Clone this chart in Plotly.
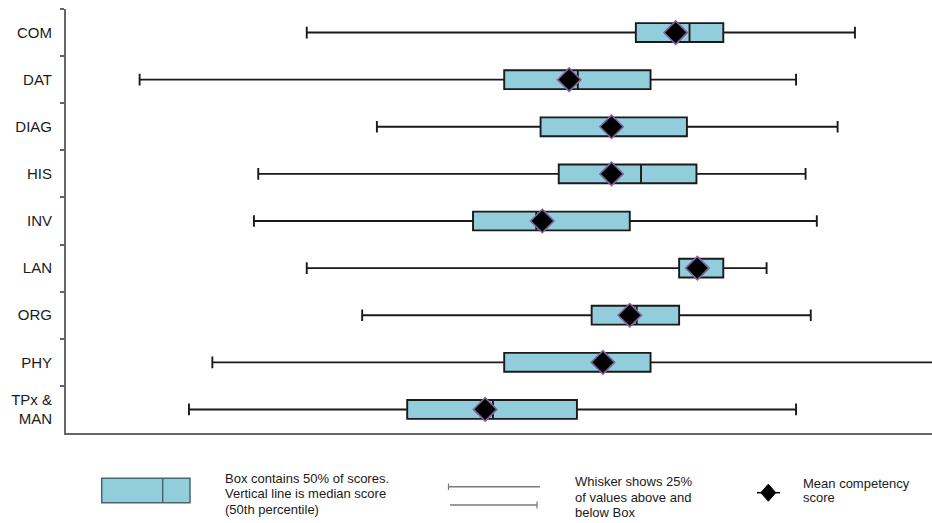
import plotly.graph_objects as go

# ---- data (score scale 0-100) ----
categories = ["COM", "DAT", "DIAG", "HIS", "INV", "LAN", "ORG", "PHY", "TPx &<br>MAN"]
lower_whisker = [27.8, 8.5, 35.9, 22.2, 21.7, 27.8, 34.2, 16.9, 14.2]
q1_values = [65.8, 50.6, 54.8, 56.9, 47.0, 70.8, 60.7, 50.6, 39.4]
median_values = [72.0, 59.1, 63.0, 66.4, 54.3, 73.0, 65.9, 62.0, 49.3]
q3_values = [75.9, 67.5, 71.7, 72.8, 65.1, 75.9, 70.8, 67.5, 59.0]
upper_whisker = [91.1, 84.3, 89.1, 85.4, 86.7, 80.9, 86.0, 102.0, 84.3]
mean_values = [70.4, 58.1, 63.0, 63.0, 55.0, 72.9, 65.1, 62.0, 48.4]

FONT = "Liberation Sans, Arial, sans-serif"
BOX_FILL = "#92CDDC"

fig = go.Figure()

fig.add_trace(go.Box(
    orientation="h",
    y=categories,
    q1=q1_values,
    median=median_values,
    q3=q3_values,
    lowerfence=lower_whisker,
    upperfence=upper_whisker,
    fillcolor=BOX_FILL,
    line=dict(color="#1a1a1a", width=1.9),
    width=0.4,
    whiskerwidth=0.62,
    boxpoints=False,
    showlegend=False,
    hoverinfo="skip",
))

fig.add_trace(go.Scatter(
    x=mean_values,
    y=categories,
    mode="markers",
    marker=dict(symbol="diamond", size=18, color="black",
                line=dict(color="#8064A2", width=1.6)),
    showlegend=False,
    cliponaxis=False,
    hoverinfo="skip",
))

# ---- layout geometry ----
W, H = 932, 523
L, R, T, B = 66, 0, 9, 90
PW, PH = W - L - R, H - T - B


def px_x(p):
    return (p - L) / PW


def px_y(p):
    return (H - B - p) / PH


shapes = []
annotations = []

# legend: box sample
shapes.append(dict(type="rect", xref="paper", yref="paper",
                   x0=px_x(101.7), x1=px_x(190), y0=px_y(502.7), y1=px_y(478.3),
                   fillcolor=BOX_FILL, line=dict(color="#4a6670", width=1.5)))
shapes.append(dict(type="line", xref="paper", yref="paper",
                   x0=px_x(162.7), x1=px_x(162.7), y0=px_y(502.7), y1=px_y(478.3),
                   line=dict(color="#4a6670", width=1.5)))

# legend: whisker samples
wcol = "#7a7a7a"
shapes.append(dict(type="line", xref="paper", yref="paper",
                   x0=px_x(448), x1=px_x(540), y0=px_y(486.7), y1=px_y(486.7),
                   line=dict(color=wcol, width=1.5)))
shapes.append(dict(type="line", xref="paper", yref="paper",
                   x0=px_x(448.5), x1=px_x(448.5), y0=px_y(483.5), y1=px_y(490),
                   line=dict(color=wcol, width=1.2)))
shapes.append(dict(type="line", xref="paper", yref="paper",
                   x0=px_x(450), x1=px_x(537), y0=px_y(505), y1=px_y(505),
                   line=dict(color=wcol, width=1.5)))
shapes.append(dict(type="line", xref="paper", yref="paper",
                   x0=px_x(537), x1=px_x(537), y0=px_y(501.5), y1=px_y(508.5),
                   line=dict(color=wcol, width=1.2)))

# legend: mean diamond sample
cx, cy = 768.3, 492.7
shapes.append(dict(type="line", xref="paper", yref="paper",
                   x0=px_x(757), x1=px_x(780), y0=px_y(cy), y1=px_y(cy),
                   line=dict(color="black", width=1.5)))
dpath = "M {} {} L {} {} L {} {} L {} {} Z".format(
    px_x(cx - 7.5), px_y(cy), px_x(cx), px_y(cy - 8.5),
    px_x(cx + 7.5), px_y(cy), px_x(cx), px_y(cy + 8.5))
shapes.append(dict(type="path", xref="paper", yref="paper", path=dpath,
                   fillcolor="black", line=dict(color="black", width=1)))


def add_lines(x, ys, lines):
    for yy, txt in zip(ys, lines):
        annotations.append(dict(xref="paper", yref="paper", x=px_x(x), y=px_y(yy),
                                xanchor="left", yanchor="middle", showarrow=False,
                                text=txt, font=dict(family=FONT, size=13, color="#1a1a1a"),
                                align="left"))


add_lines(223, [478, 493.5, 509],
          ["Box contains 50% of scores.", "Vertical line is median score", "(50th percentile)"])
add_lines(573, [482, 497, 512.5],
          ["Whisker shows 25%", "of values above and", "below Box"])
add_lines(801, [483, 498],
          ["Mean competency", "score"])

fig.update_layout(
    width=W, height=H,
    margin=dict(l=L, r=R, t=T, b=B, pad=0),
    paper_bgcolor="white", plot_bgcolor="white",
    font=dict(family=FONT, size=15, color="#1a1a1a"),
    shapes=shapes, annotations=annotations,
    showlegend=False,
)

fig.update_xaxes(range=[0, 100], showgrid=False, zeroline=False,
                 showticklabels=False, ticks="", showline=True,
                 linecolor="#666666", linewidth=1.5)
fig.update_yaxes(type="category", categoryorder="array", categoryarray=categories,
                 range=[len(categories) - 0.5, -0.5],
                 showgrid=False, zeroline=False, showline=True,
                 linecolor="#666666", linewidth=2,
                 ticks="outside", tickson="boundaries", ticklen=4,
                 tickcolor="#666666", tickwidth=1.5,
                 ticklabelstandoff=9,
                 tickfont=dict(family=FONT, size=15, color="#1a1a1a"))

fig.write_html(
    "out.html",
    config={"displayModeBar": False},
    post_script="document.body.style.margin='0';document.body.style.overflow='hidden';",
)
